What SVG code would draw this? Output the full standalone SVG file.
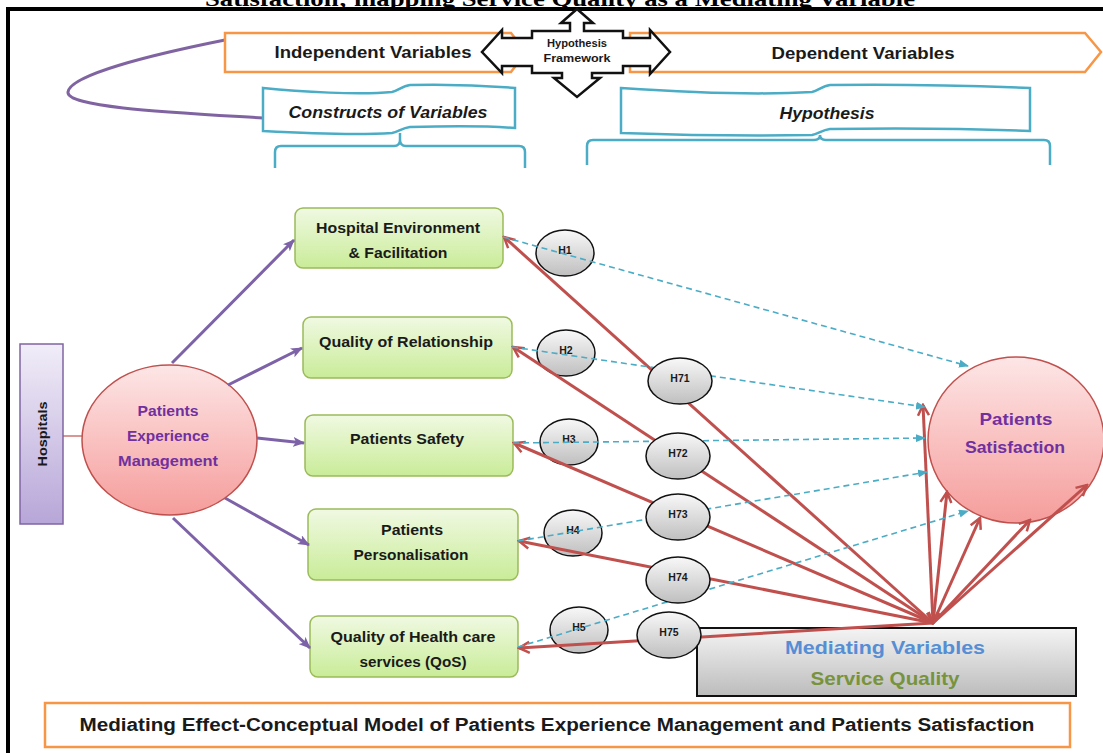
<svg xmlns="http://www.w3.org/2000/svg" width="1103" height="753" viewBox="0 0 1103 753">
<defs>
<style>
.t{font-family:"Liberation Sans",Arial,sans-serif;font-weight:bold;text-anchor:middle;fill:#1a1a1a}
.nb{font-size:14px}
.hl{font-size:10.5px}
.green{fill:url(#gGreen);stroke:#9bbb59;stroke-width:1.5}
.hyp{fill:url(#gGray);stroke:#111;stroke-width:1.5}
.red{fill:none;stroke:#c0504d;stroke-width:3}
.pur{fill:none;stroke:#7d62a8;stroke-width:3}
.dash{fill:none;stroke:#4bacc6;stroke-width:1.6;stroke-dasharray:6 4}
.org{fill:#fff;stroke:#f79646;stroke-width:2.5}
.cyan{fill:none;stroke:#4bacc6;stroke-width:2.5}
.purp{fill:#7030a0}
</style>
<linearGradient id="gGreen" x1="0" y1="0" x2="0" y2="1"><stop offset="0" stop-color="#f0f9e2"/><stop offset="1" stop-color="#c9ec98"/></linearGradient>
<linearGradient id="gPink" x1="0" y1="0" x2="0" y2="1"><stop offset="0" stop-color="#fde6e6"/><stop offset="1" stop-color="#f59d9b"/></linearGradient>
<linearGradient id="gGray" x1="0" y1="0" x2="0" y2="1"><stop offset="0" stop-color="#f8f8f8"/><stop offset="1" stop-color="#bfbfbf"/></linearGradient>
<linearGradient id="gMed" x1="0" y1="0" x2="0" y2="1"><stop offset="0" stop-color="#f4f4f4"/><stop offset="1" stop-color="#bcbcbc"/></linearGradient>
<linearGradient id="gHosp" x1="0" y1="0" x2="0" y2="1"><stop offset="0" stop-color="#f1edf8"/><stop offset="1" stop-color="#b7a6d8"/></linearGradient>
<marker id="ra" viewBox="0 0 14 14" refX="12" refY="7" markerWidth="14" markerHeight="14" markerUnits="userSpaceOnUse" orient="auto-start-reverse"><path d="M1.5,1.5 L12,7 L1.5,12.5" fill="none" stroke="#c0504d" stroke-width="2.5"/></marker>
<marker id="pa" viewBox="0 0 12 10" refX="11" refY="5" markerWidth="12" markerHeight="10" markerUnits="userSpaceOnUse" orient="auto"><path d="M0,0 L12,5 L0,10 L3,5 Z" fill="#7d62a8"/></marker>
<marker id="ca" viewBox="0 0 10 8" refX="9" refY="4" markerWidth="10" markerHeight="8" markerUnits="userSpaceOnUse" orient="auto"><path d="M0,0 L10,4 L0,8 Z" fill="#4bacc6"/></marker>
</defs>
<rect width="1103" height="753" fill="#fff"/>
<text x="560" y="6" font-family="'Liberation Serif','Times New Roman',serif" font-weight="bold" font-size="21" text-anchor="middle" textLength="710" lengthAdjust="spacingAndGlyphs">Satisfaction; mapping Service Quality as a Mediating Variable</text>
<path d="M8,753 L8,9 L1103,9" fill="none" stroke="#000" stroke-width="4"/>

<g id="header">
<path d="M225,40 C150,55 70,75 68,92 C66,108 180,113 263,118" fill="none" stroke="#8064a2" stroke-width="3"/>
<g id="independent"><polygon class="org" points="225,33 511,33 526,52 511,72 225,72"/><text class="t" x="373" y="58" font-size="16" textLength="197" lengthAdjust="spacingAndGlyphs">Independent Variables</text></g>
<g id="dependent"><polygon class="org" points="630,33 1085,33 1101,52 1085,72 630,72"/><text class="t" x="863" y="59" font-size="16" textLength="183" lengthAdjust="spacingAndGlyphs">Dependent Variables</text></g>
<g id="framework"><polygon points="577,9 593,23 584,23 584,31 623,31 623,38 650,38 650,30 670,52 650,74 650,66 623,66 623,73 592,73 592,78 600,78 577,97 554,78 562,78 562,73 532,73 532,66 502,66 502,73 482,52 502,30 502,38 532,38 532,31 570,31 570,23 561,23" fill="#fff" stroke="#111" stroke-width="2.5" stroke-linejoin="miter"/>
<text class="t" x="577" y="47" font-size="10" textLength="60" lengthAdjust="spacingAndGlyphs">Hypothesis</text>
<text class="t" x="577" y="62" font-size="10" textLength="67" lengthAdjust="spacingAndGlyphs">Framework</text></g>
<g id="constructs"><path class="cyan" fill="#fff" d="M263,88 C300,92 360,95 392,92 C398,91 402,86 410,85 C450,84 490,86 515,88 L515,128 C490,126 450,126 410,127 C402,128 398,132 392,133 C360,135 300,133 263,131 Z" style="fill:#fff"/>
<text class="t" x="388" y="118" font-size="16" font-style="italic" textLength="199" lengthAdjust="spacingAndGlyphs">Constructs of Variables</text>
<path class="cyan" d="M275,168 L275,152 Q275,146 281,146 L394,146 Q400,146 400,140 L400,133 M400,140 Q400,146 406,146 L519,146 Q525,146 525,152 L525,168"/></g>
<g id="hypothesis"><path class="cyan" style="fill:#fff" d="M621,88 C680,92 760,95 812,92 C818,91 822,86 830,85 C900,84 980,86 1030,88 L1030,131 C980,129 900,128 830,129 C822,130 818,134 812,135 C760,136 680,135 621,133 Z"/>
<text class="t" x="827" y="119" font-size="16" font-style="italic" textLength="95" lengthAdjust="spacingAndGlyphs">Hypothesis</text>
<path class="cyan" d="M587,165 L587,146 Q587,140 593,140 L814,140 Q820,140 820,135 M820,135 Q820,140 826,140 L1044,140 Q1050,140 1050,146 L1050,165"/></g>
</g>

<g id="hospitals"><rect x="20" y="344" width="43" height="180" fill="url(#gHosp)" stroke="#8064a2" stroke-width="1.5"/>
<text class="t" x="0" y="0" font-size="13" transform="translate(47,434) rotate(-90)" textLength="65" lengthAdjust="spacingAndGlyphs">Hospitals</text></g>

<g id="pem"><ellipse cx="169.5" cy="440" rx="87.5" ry="75" fill="url(#gPink)" stroke="#c0504d" stroke-width="1.5"/>
<text class="t purp" x="168" y="416" font-size="14" textLength="61" lengthAdjust="spacingAndGlyphs" style="fill:#7030a0">Patients</text>
<text class="t" x="168" y="441" font-size="14" textLength="82" lengthAdjust="spacingAndGlyphs" style="fill:#7030a0">Experience</text>
<text class="t" x="168" y="466" font-size="14" textLength="100" lengthAdjust="spacingAndGlyphs" style="fill:#7030a0">Management</text></g>

<g id="box1"><rect class="green" x="295" y="208" width="208" height="60" rx="8"/><text class="t nb" x="398" y="233" textLength="164" lengthAdjust="spacingAndGlyphs">Hospital Environment</text><text class="t nb" x="398" y="258" textLength="99" lengthAdjust="spacingAndGlyphs">&amp; Facilitation</text></g>
<g id="box2"><rect class="green" x="303" y="317" width="209" height="61" rx="8"/><text class="t nb" x="406" y="347" textLength="174" lengthAdjust="spacingAndGlyphs">Quality of Relationship</text></g>
<g id="box3"><rect class="green" x="305" y="415" width="208" height="61" rx="8"/><text class="t nb" x="407" y="444" textLength="114" lengthAdjust="spacingAndGlyphs">Patients Safety</text></g>
<g id="box4"><rect class="green" x="308" y="509" width="210" height="71" rx="8"/><text class="t nb" x="412" y="535" textLength="62" lengthAdjust="spacingAndGlyphs">Patients</text><text class="t nb" x="411" y="560" textLength="115" lengthAdjust="spacingAndGlyphs">Personalisation</text></g>
<g id="box5"><rect class="green" x="310" y="616" width="208" height="61" rx="8"/><text class="t nb" x="413" y="642" textLength="165" lengthAdjust="spacingAndGlyphs">Quality of Health care</text><text class="t nb" x="413" y="667" textLength="107" lengthAdjust="spacingAndGlyphs">services (QoS)</text></g>

<g id="ps"><ellipse cx="1016" cy="440" rx="88" ry="83" fill="url(#gPink)" stroke="#c0504d" stroke-width="1.5"/>
<text class="t" x="1016" y="425" font-size="17" textLength="73" lengthAdjust="spacingAndGlyphs" style="fill:#7030a0">Patients</text>
<text class="t" x="1015" y="453" font-size="17" textLength="100" lengthAdjust="spacingAndGlyphs" style="fill:#7030a0">Satisfaction</text></g>

<g id="mediating"><rect x="697" y="628" width="379" height="68" fill="url(#gMed)" stroke="#111" stroke-width="2"/>
<text class="t" x="885" y="654" font-size="19" textLength="200" lengthAdjust="spacingAndGlyphs" style="fill:#558ed5">Mediating Variables</text>
<text class="t" x="885" y="685" font-size="19" textLength="149" lengthAdjust="spacingAndGlyphs" style="fill:#77933c">Service Quality</text></g>

<g id="h-direct">
<g id="H1"><ellipse class="hyp" cx="565" cy="253" rx="29" ry="23"/><text class="t hl" x="565" y="254">H1</text></g>
<g id="H2"><ellipse class="hyp" cx="566" cy="353" rx="29" ry="23"/><text class="t hl" x="566" y="354">H2</text></g>
<g id="H3"><ellipse class="hyp" cx="569" cy="442" rx="29" ry="23"/><text class="t hl" x="569" y="443">H3</text></g>
<g id="H4"><ellipse class="hyp" cx="573" cy="533" rx="29" ry="23"/><text class="t hl" x="573" y="534">H4</text></g>
<g id="H5"><ellipse class="hyp" cx="579" cy="630" rx="29" ry="23"/><text class="t hl" x="579" y="631">H5</text></g>
</g>

<g id="connectors">
<path class="pur" d="M172,363 L294,240" marker-end="url(#pa)"/>
<path class="pur" d="M228,385 L302,348" marker-end="url(#pa)"/>
<path class="pur" d="M257,438 L304,443" marker-end="url(#pa)"/>
<path class="pur" d="M225,498 L309,545" marker-end="url(#pa)"/>
<path class="pur" d="M173,518 L310,648" marker-end="url(#pa)"/>
<path d="M63,436 L82,436" stroke="#c0504d" stroke-width="1.2"/>
<path class="red" d="M933,623 L504,237" marker-end="url(#ra)"/>
<path class="red" d="M933,623 L513,347" marker-end="url(#ra)"/>
<path class="red" d="M933,623 L514,443" marker-end="url(#ra)"/>
<path class="red" d="M933,623 L519,541" marker-end="url(#ra)"/>
<path class="red" d="M933,623 L519,648" marker-end="url(#ra)"/>
<path class="red" d="M933,623 L923,405" marker-end="url(#ra)" marker-start="url(#ra)"/>
<path class="red" d="M933,623 L947,492" marker-end="url(#ra)" marker-start="url(#ra)"/>
<path class="red" d="M933,623 L980,518" marker-end="url(#ra)"/>
<path class="red" d="M933,623 L1030,520" marker-end="url(#ra)"/>
<path class="red" d="M933,623 L1087,485" marker-end="url(#ra)"/>
<path class="dash" d="M503,237 L968,366" marker-end="url(#ca)"/>
<path class="dash" d="M512,347 L925,407" marker-end="url(#ca)"/>
<path class="dash" d="M513,443 L925,438" marker-end="url(#ca)"/>
<path class="dash" d="M518,541 L927,472" marker-end="url(#ca)"/>
<path class="dash" d="M518,647 L968,511" marker-end="url(#ca)"/>
</g>

<g id="h-mediated">
<g id="H71"><ellipse class="hyp" cx="680" cy="381" rx="32" ry="23"/><text class="t hl" x="680" y="382">H71</text></g>
<g id="H72"><ellipse class="hyp" cx="678" cy="456" rx="32" ry="23"/><text class="t hl" x="678" y="457">H72</text></g>
<g id="H73"><ellipse class="hyp" cx="678" cy="517" rx="32" ry="23"/><text class="t hl" x="678" y="518">H73</text></g>
<g id="H74"><ellipse class="hyp" cx="678" cy="580" rx="32" ry="23"/><text class="t hl" x="678" y="581">H74</text></g>
<g id="H75"><ellipse class="hyp" cx="669" cy="635" rx="32" ry="23"/><text class="t hl" x="669" y="636">H75</text></g>
</g>

<g id="caption"><rect x="45" y="703" width="1025" height="44" fill="#fff" stroke="#f79646" stroke-width="2.5"/>
<text class="t" x="557" y="731" font-size="18" textLength="955" lengthAdjust="spacingAndGlyphs">Mediating Effect-Conceptual Model of Patients Experience Management and Patients Satisfaction</text></g>
</svg>
